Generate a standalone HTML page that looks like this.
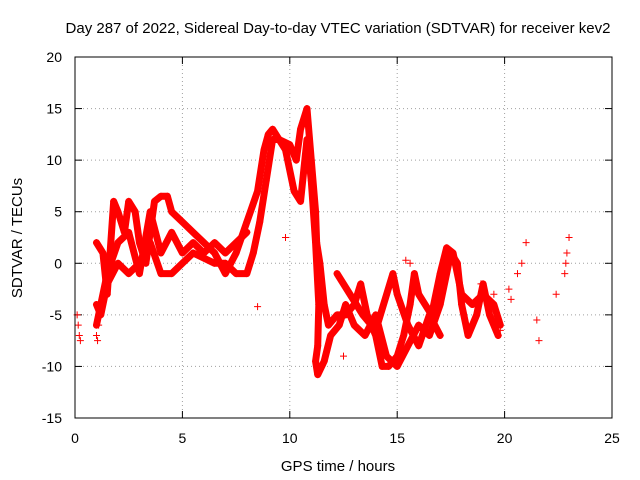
<!DOCTYPE html>
<html><head><meta charset="utf-8">
<style>
body{margin:0;background:#fff;}
svg{display:block;font-family:"Liberation Sans",sans-serif;}
</style></head>
<body>
<svg id="chart" width="640" height="480" viewBox="0 0 640 480">
<rect width="640" height="480" fill="#fff"/>
<text x="338" y="33" font-size="15" text-anchor="middle">Day 287 of 2022, Sidereal Day-to-day VTEC variation (SDTVAR) for receiver kev2</text>
<g id="grid"></g>
<g id="ticks"></g>
<g id="series"></g>
<rect x="75" y="57" width="537" height="361" fill="none" stroke="#000" stroke-width="1"/>
<text x="338" y="471" font-size="15" text-anchor="middle">GPS time / hours</text>
<text x="22" y="238" font-size="15" text-anchor="middle" transform="rotate(-90 22 238)">SDTVAR / TECUs</text>
</svg>
<script>
const xTicks=[0,5,10,15,20,25];
const yTicks=[-15,-10,-5,0,5,10,15,20];
const traceAx=[1.0,1.3,1.5,1.6,1.8,2.0,2.3,2.5,2.8,3.0,3.3,3.5,3.7,4.0,4.3,4.5,5.0,5.5,6.0,6.5,7.0,7.5,8.0,8.5,8.8,9.0,9.2,9.5,10.0,10.3,10.5,10.8,11.0,11.2,11.25,11.4,11.6,11.8,12.2,12.6,13.0,13.3,13.6,14.0,14.3,14.6,15.0,15.3,15.6,15.8,16.0,16.3,16.6,17.0,17.3,17.6,18.0,18.5,19.0,19.5,19.8];
const traceAy=[2,1,-3,0,6,5,3,6,5,2,0,3,6,6.5,6.5,5,4,3,2,1,-1,1,4,7,11,12.5,13,12,11.5,10,13,15,10,5,2,0,-4,-6,-5,-5,-4,-2,-5,-7,-10,-10,-9,-7,-4,-1,-3,-4,-5,-1,1.5,1,-3,-4,-3,-4,-6];
const traceBx=[1.0,1.2,1.5,2.0,2.5,3.0,3.5,4.0,4.5,5.0,5.5,6.0,6.5,7.0,7.5,8.0,8.3,8.6,8.9,9.2,9.5,9.8,10.2,10.5,10.8,11.0,11.2,11.35,11.3,11.2,11.3,11.6,11.9,12.3,12.6,13.0,13.5,14.0,14.5,15.0,15.5,16.0,16.5,17.0,17.5,17.8,18.0,18.3,18.7,19.0,19.3,19.7];
const traceBy=[-4,-5,-2,0,-1,0,2,-1,-1,0,1,0.5,0,0,-1,-1,1,4,8,12,12,11,7,6,12,8,2,-4,-8,-9.5,-10.8,-9.5,-7,-6,-4,-6,-7,-5,-9,-10,-8,-6,-7,-4,1,0,-4,-7,-5,-2,-5,-7];
const traceCx=[1.0,1.5,2.0,2.5,3.0,3.5,4.0,4.5,5.0,5.5,6.0,6.5,7.0,7.5,8.0];
const traceCy=[-6,-1,2,3,-1,5,1,3,1,2,1,2,1,2,3];
const traceDx=[12.2,12.8,13.4,14.0,14.8,15.0,15.5,16.0,16.5,17.0];
const traceDy=[-1,-3,-5,-6.5,-1,-3,-6,-8,-5,-7];
const scatterX=[0.1,0.15,0.2,0.25,1.0,1.05,1.1,20.2,20.3,20.6,20.8,21.0,21.5,21.6,22.4,22.8,22.85,22.9,23.0,8.5,9.8,12.5,18.9,19.5,19.8,15.4,15.6];
const scatterY=[-5,-6,-7,-7.5,-7,-7.5,-6,-2.5,-3.5,-1,0,2,-5.5,-7.5,-3,-1,0,1,2.5,-4.2,2.5,-9,-2,-3,-6.5,0.3,0];
const X=v=>75+v*(537/25), Y=v=>418-(v+15)*(361/35);
const NS="http://www.w3.org/2000/svg";
const grid=document.getElementById('grid'),ticks=document.getElementById('ticks'),ser=document.getElementById('series');
function mk(tag,at,par){const e=document.createElementNS(NS,tag);for(const k in at)e.setAttribute(k,at[k]);par.appendChild(e);return e;}
xTicks.forEach(t=>{
 if(t>0&&t<25){const g=mk('line',{x1:X(t),x2:X(t),y1:57,y2:418,stroke:'#a0a0a0','stroke-dasharray':'1,3'},grid);
 
 }
 mk('line',{x1:X(t),x2:X(t),y1:418,y2:411,stroke:'#000'},ticks);
 mk('line',{x1:X(t),x2:X(t),y1:57,y2:64,stroke:'#000'},ticks);
 const l=mk('text',{x:X(t),y:443,'font-size':14,'text-anchor':'middle'},ticks);l.textContent=t;
 
 
});
yTicks.forEach(t=>{
 if(t>-15&&t<20){const g=mk('line',{x1:75,x2:612,y1:Y(t),y2:Y(t),stroke:'#a0a0a0','stroke-dasharray':'1,3'},grid);
 
 }
 mk('line',{x1:75,x2:82,y1:Y(t),y2:Y(t),stroke:'#000'},ticks);
 mk('line',{x1:605,x2:612,y1:Y(t),y2:Y(t),stroke:'#000'},ticks);
 const l=mk('text',{x:62,y:Y(t)+5,'font-size':14,'text-anchor':'end'},ticks);l.textContent=t;
 
 
});
function plus(x,y){const p=mk('path',{d:`M${X(x)-3.5},${Y(y)}h7M${X(x)},${Y(y)-3.5}v7`,stroke:'#f00','stroke-width':1},ser);
 
 }
[[traceAx,traceAy],[traceBx,traceBy],[traceCx,traceCy],[traceDx,traceDy]].forEach(([xs,ys],i)=>{
 const pl=mk('polyline',{points:xs.map((x,j)=>X(x)+','+Y(ys[j])).join(' '),fill:'none',stroke:'#f00','stroke-width':7,'stroke-linejoin':'round','stroke-linecap':'round'},ser);
 
 
 xs.forEach((x,j)=>plus(x,ys[j]));
});
scatterX.forEach((x,j)=>plus(x,scatterY[j]));
</script>
</body></html>
